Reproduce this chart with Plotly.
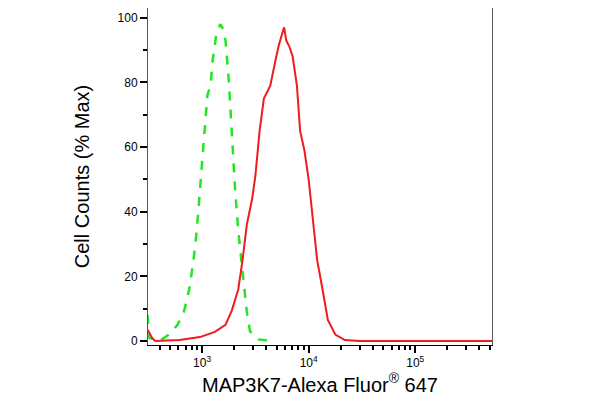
import plotly.graph_objects as go

# log10 fluorescence and % max
green_logx = [2.49, 2.50, 2.60, 2.69, 2.77, 2.83, 2.88, 2.92, 2.95, 2.98, 3.02, 3.05, 3.08, 3.10, 3.13, 3.17, 3.19, 3.22, 3.25, 3.28, 3.31, 3.34, 3.38, 3.42, 3.45, 3.53, 3.64]
green_y = [8, 1, 0, 2, 5, 9, 16, 25, 34, 47, 65, 76, 79, 87, 94, 98, 97, 93, 81, 62, 47, 34, 22, 9, 3, 0.5, 0]
red_logx = [2.49, 2.53, 2.56, 2.79, 2.98, 3.12, 3.22, 3.28, 3.34, 3.38, 3.42, 3.47, 3.50, 3.54, 3.58, 3.64, 3.69, 3.72, 3.76, 3.77, 3.79, 3.82, 3.85, 3.89, 3.92, 3.96, 4.00, 4.04, 4.08, 4.13, 4.18, 4.25, 4.34, 4.48, 5.72]
red_y = [3.5, 1, 0, 0.3, 1.2, 2.8, 5, 9.5, 16, 25, 36, 44, 51, 65, 75, 79, 87, 91.5, 96, 97, 93, 91, 88, 79, 65, 59, 50, 37, 25, 16, 6.5, 2, 0.3, 0, 0]
xticks = [1e3, 1e4, 1e5]
xticklabels = ["10<sup>3</sup>", "10<sup>4</sup>", "10<sup>5</sup>"]
yticks = [0, 20, 40, 60, 80, 100]

minor_x = [m * 10**e for e in (2, 3, 4, 5) for m in range(2, 10) if 311 < m * 10**e < 526000]

fig = go.Figure()
fig.add_trace(go.Scatter(x=[10**v for v in green_logx], y=green_y, mode="lines",
                         line=dict(color="#22e622", width=2.5, dash="dash")))
fig.add_trace(go.Scatter(x=[10**v for v in red_logx], y=red_y, mode="lines",
                         line=dict(color="#ee1c1c", width=2)))
fig.update_layout(
    width=592, height=410, showlegend=False,
    margin=dict(l=140, r=108, t=0, b=73),
    plot_bgcolor="white", paper_bgcolor="white",
    font=dict(family="Liberation Sans, Arial", color="black"),
    xaxis=dict(type="log", range=[2.493, 5.72], tickvals=xticks, ticktext=xticklabels,
               ticks="outside", ticklen=7, tickwidth=2, tickcolor="black",
               tickfont=dict(size=12), showgrid=False, zeroline=False,
               showline=True, linecolor="black", linewidth=1, mirror=True,
               minor=dict(tickvals=minor_x, ticks="outside", ticklen=4, tickwidth=1.5, tickcolor="black"),
               title=dict(text="MAP3K7-Alexa Fluor<sup>®</sup> 647", font=dict(size=20), standoff=4)),
    yaxis=dict(range=[-1.24, 103], tickvals=yticks, ticks="outside", ticklen=7, tickwidth=2,
               tickcolor="black", tickfont=dict(size=12), showgrid=False, zeroline=False,
               showline=True, linecolor="#555", linewidth=1, mirror=True,
               minor=dict(dtick=10, ticks="outside", ticklen=4, tickcolor="black"),
               title=dict(text="Cell Counts (% Max)", font=dict(size=20), standoff=22)),
)
fig.write_html("out.html")
